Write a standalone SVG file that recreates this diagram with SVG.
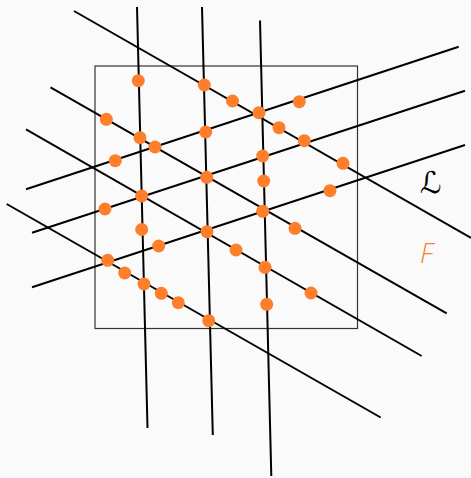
<svg xmlns="http://www.w3.org/2000/svg" width="471" height="478" viewBox="0 0 471 478">
<style>
.ln{stroke:#000;stroke-width:2;fill:none;stroke-linecap:butt}
.dot{fill:#fd7f2c}
.frame{fill:none;stroke:#333;stroke-width:1.2}
</style>
<rect width="471" height="478" fill="#fafafa"/>
<rect class="frame" x="95" y="66" width="262.5" height="262.5"/>
<g id="connectors">
<line class="ln" x1="137" y1="7" x2="147.5" y2="428"/>
<line class="ln" x1="202" y1="7" x2="212.8" y2="435"/>
<line class="ln" x1="260" y1="20.5" x2="271.3" y2="476"/>
<line class="ln" x1="74" y1="11" x2="471" y2="238"/>
<line class="ln" x1="50.5" y1="87.3" x2="446.7" y2="313.3"/>
<line class="ln" x1="26" y1="129.3" x2="421.7" y2="356"/>
<line class="ln" x1="6.7" y1="204" x2="380.7" y2="417.5"/>
<line class="ln" x1="26" y1="189.3" x2="458.7" y2="46.7"/>
<line class="ln" x1="32" y1="232.7" x2="465" y2="90.7"/>
<line class="ln" x1="32" y1="287.3" x2="465" y2="145"/>
</g>
<g id="n1"><circle class="dot" cx="138.3" cy="80.7" r="6.5"/></g>
<g id="n2"><circle class="dot" cx="204.3" cy="85" r="6.5"/></g>
<g id="n3"><circle class="dot" cx="232.5" cy="101" r="6.5"/></g>
<g id="n4"><circle class="dot" cx="299.3" cy="101.7" r="6.5"/></g>
<g id="n5"><circle class="dot" cx="106.3" cy="119.3" r="6.5"/></g>
<g id="n6"><circle class="dot" cx="140" cy="137.7" r="6.5"/></g>
<g id="n7"><circle class="dot" cx="155" cy="147" r="6.5"/></g>
<g id="n8"><circle class="dot" cx="205.7" cy="132" r="6.5"/></g>
<g id="n9"><circle class="dot" cx="259" cy="112.7" r="6.5"/></g>
<g id="n10"><circle class="dot" cx="279" cy="127.7" r="6.5"/></g>
<g id="n11"><circle class="dot" cx="304.3" cy="140.7" r="6.5"/></g>
<g id="n12"><circle class="dot" cx="115.3" cy="160.7" r="6.5"/></g>
<g id="n13"><circle class="dot" cx="262.7" cy="156" r="6.5"/></g>
<g id="n14"><circle class="dot" cx="343" cy="163.3" r="6.5"/></g>
<g id="n15"><circle class="dot" cx="263.7" cy="181" r="6.5"/></g>
<g id="n16"><circle class="dot" cx="330" cy="190.7" r="6.5"/></g>
<g id="n17"><circle class="dot" cx="141.7" cy="196" r="6.5"/></g>
<g id="n18"><circle class="dot" cx="206.7" cy="177.3" r="6.5"/></g>
<g id="n19"><circle class="dot" cx="105" cy="209" r="6.5"/></g>
<g id="n20"><circle class="dot" cx="262.7" cy="211.3" r="6.5"/></g>
<g id="n21"><circle class="dot" cx="295" cy="228.3" r="6.5"/></g>
<g id="n22"><circle class="dot" cx="141.7" cy="229.5" r="6.5"/></g>
<g id="n23"><circle class="dot" cx="158.7" cy="246" r="6.5"/></g>
<g id="n24"><circle class="dot" cx="207" cy="231.7" r="6.5"/></g>
<g id="n25"><circle class="dot" cx="236" cy="250" r="6.5"/></g>
<g id="n26"><circle class="dot" cx="107.7" cy="260.3" r="6.5"/></g>
<g id="n27"><circle class="dot" cx="124.7" cy="273" r="6.5"/></g>
<g id="n28"><circle class="dot" cx="265" cy="267.3" r="6.5"/></g>
<g id="n29"><circle class="dot" cx="144" cy="284" r="6.5"/></g>
<g id="n30"><circle class="dot" cx="161.3" cy="293.3" r="6.5"/></g>
<g id="n31"><circle class="dot" cx="178.3" cy="302.7" r="6.5"/></g>
<g id="n32"><circle class="dot" cx="311" cy="293" r="6.5"/></g>
<g id="n33"><circle class="dot" cx="266.7" cy="304.3" r="6.5"/></g>
<g id="n34"><circle class="dot" cx="208.7" cy="320.7" r="6.5"/></g>
<g id="labelL"><text x="420" y="193" font-family="DejaVu Sans, sans-serif" font-size="30" fill="#000">ℒ</text></g>
<g id="labelF"><text x="420" y="263" font-family="Open Sans, sans-serif" font-size="27" font-style="italic" font-weight="300" fill="#fd7f2c">F</text></g>
</svg>
